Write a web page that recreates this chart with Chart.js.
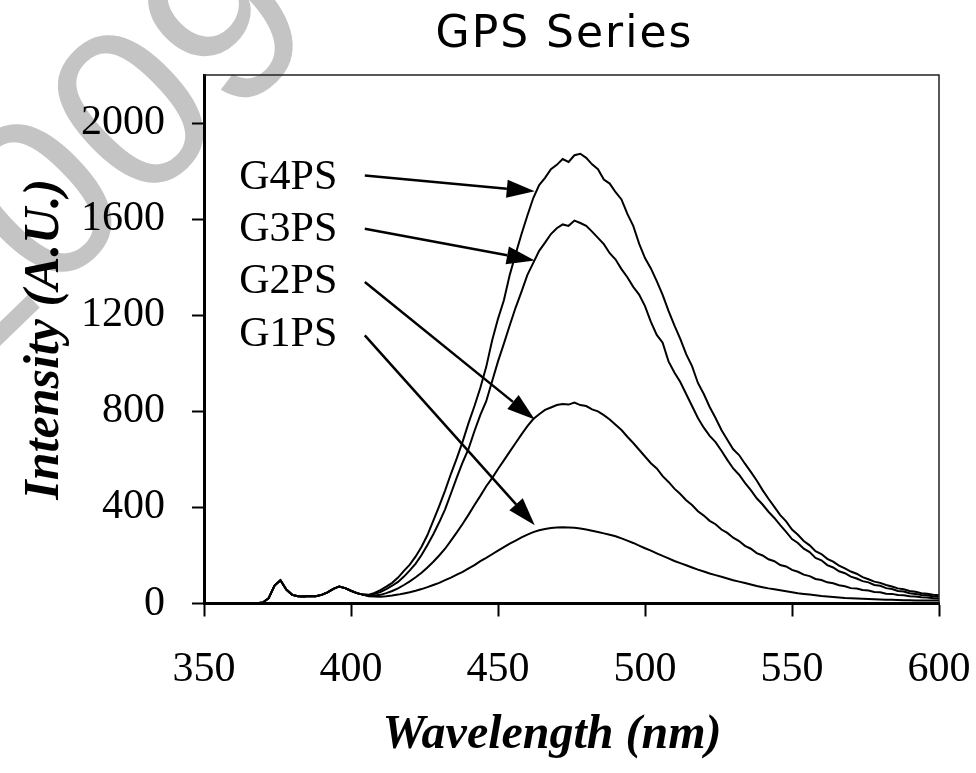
<!DOCTYPE html>
<html>
<head>
<meta charset="utf-8">
<script src="https://cdn.jsdelivr.net/npm/chart.js@4.4.0/dist/chart.umd.min.js"></script>
<style>
  html, body { margin: 0; padding: 0; background: #fff; }
</style>
</head>
<body>
<canvas id="chart" width="976" height="773"></canvas>
<script>
// Wavelength grid (nm)
const wavelengths = [
  366,368,370,372,374,376,378,380,382,384,386,388,390,392,394,396,398,400,402,404,
  406,408,410,412,414,416,418,420,422,424,426,428,430,432,434,436,438,440,442,444,
  446,448,450,452,454,456,458,460,462,464,466,468,470,472,474,476,478,480,482,484,
  486,488,490,492,494,496,498,500,502,504,506,508,510,512,514,516,518,520,522,524,
  526,528,530,532,534,536,538,540,542,544,546,548,550,552,554,556,558,560,562,564,
  566,568,570,572,574,576,578,580,582,584,586,588,590,592,594,596,598,600
];

const seriesNames = ['G4PS', 'G3PS', 'G2PS', 'G1PS'];

// Intensity (A.U.)
const g4ps = [
  0,1,4,22,75,97,58,36,30,29,31,30,36,46,61,71,64,53,43,37,
  36,44,56,70,86,108,136,162,196,236,285,345,405,470,540,605,675,752,822,898,
  985,1095,1185,1262,1368,1455,1538,1615,1688,1742,1772,1808,1826,1850,1838,1866,1872,1855,1828,1808,
  1765,1748,1712,1682,1622,1572,1498,1438,1395,1342,1285,1218,1158,1102,1038,988,918,872,818,772,
  722,682,642,618,582,548,512,472,436,402,368,342,308,286,260,242,218,206,186,174,
  158,146,133,124,110,101,91,86,77,71,63,59,52,49,43,41,36,34
];
const g3ps = [
  0,1,4,22,75,97,58,36,30,29,31,30,36,46,61,71,64,53,43,37,
  35,40,48,60,74,90,112,138,166,202,244,288,338,392,458,525,588,645,718,785,
  842,925,1008,1082,1158,1232,1298,1368,1418,1468,1502,1538,1562,1578,1572,1594,1584,1572,1548,1522,
  1496,1458,1432,1392,1358,1318,1286,1238,1172,1118,1086,1008,962,922,872,822,772,732,698,672,
  636,598,562,536,502,472,438,412,382,356,326,298,268,252,228,214,190,180,160,150,
  134,126,112,104,93,88,77,74,64,60,52,50,43,40,35,34,29,28
];
const g2ps = [
  0,1,4,22,75,97,58,36,30,29,31,30,36,46,61,71,64,53,43,37,
  32,33,36,43,52,63,77,92,109,128,150,174,200,228,262,296,332,370,410,448,
  488,522,560,596,632,668,704,738,768,788,806,816,826,830,828,836,826,822,808,800,
  784,766,744,722,694,668,640,612,584,562,530,506,478,456,430,410,384,366,344,330,
  308,294,274,260,240,228,210,200,184,176,160,154,140,132,120,114,102,98,88,84,
  76,72,64,62,56,54,48,47,41,40,35,34,30,29,26,25,22,21
];
const g1ps = [
  0,1,4,22,75,97,58,36,30,29,31,30,36,46,61,71,64,53,43,37,
  30,29,28,30,33,37,42,47,53,60,68,77,86,97,108,120,132,146,160,176,
  190,205,220,235,249,262,275,287,297,305,310,314,316,317,316,315,312,308,303,298,
  292,286,280,271,262,252,241,230,220,209,198,188,177,168,159,150,141,133,125,118,
  111,104,97,91,85,79,73,68,63,59,55,51,47,43,40,37,34,31,29,27,
  25,23,22,21,20,19,18,17,16,16,15,14,14,13,13,12,12,12
];
const seriesValues = [g4ps, g3ps, g2ps, g1ps];

// Axis ticks
const xTicks = [350, 400, 450, 500, 550, 600];
const yTicks = [0, 400, 800, 1200, 1600, 2000];

// Arrow notes, in data units
const noteLabelX = 362;
const noteLabelY = [1773, 1553, 1337, 1116];
const arrowFromX = 404.7;
const arrowFromY = [1782, 1560, 1338, 1116];
const arrowToX = 462.5;
const arrowToY = [1716, 1428, 766, 326];

const serif = '"Liberation Serif", "Times New Roman", serif';

// white background + grey watermark behind everything
const backdrop = {
  id: 'backdrop',
  beforeDraw(chart) {
    const c = chart.ctx;
    c.save();
    c.fillStyle = '#fff';
    c.fillRect(0, 0, chart.width, chart.height);
    c.translate(96, 165);
    c.rotate(-44 * Math.PI / 180);
    c.font = '230px "Liberation Sans", Arial, sans-serif';
    c.fillStyle = '#c4c4c4';
    c.textAlign = 'center';
    c.textBaseline = 'middle';
    c.fillText('2009', 0, 0);
    c.restore();
  }
};

// thin top/right frame, arrows with labels, titles
const notes = {
  id: 'notes',
  afterDatasetsDraw(chart) {
    const c = chart.ctx;
    const { left, right, top, bottom } = chart.chartArea;
    const xs = chart.scales.x, ys = chart.scales.y;

    c.save();
    c.strokeStyle = '#222';
    c.lineWidth = 1.5;
    c.beginPath();
    c.moveTo(left, top);
    c.lineTo(right, top);
    c.lineTo(right, bottom);
    c.stroke();

    c.fillStyle = '#000';
    c.strokeStyle = '#000';
    c.font = '42px ' + serif;
    c.textAlign = 'left';
    c.textBaseline = 'middle';
    seriesNames.forEach((name, i) => {
      c.fillText(name, xs.getPixelForValue(noteLabelX), ys.getPixelForValue(noteLabelY[i]));

      const x0 = xs.getPixelForValue(arrowFromX), y0 = ys.getPixelForValue(arrowFromY[i]);
      const x1 = xs.getPixelForValue(arrowToX), y1 = ys.getPixelForValue(arrowToY[i]);
      const ang = Math.atan2(y1 - y0, x1 - x0);
      const headLen = 28, headHalf = 9;
      const bx = x1 - headLen * Math.cos(ang), by = y1 - headLen * Math.sin(ang);
      c.lineWidth = 2.5;
      c.beginPath();
      c.moveTo(x0, y0);
      c.lineTo(bx, by);
      c.stroke();
      c.beginPath();
      c.moveTo(x1, y1);
      c.lineTo(bx + headHalf * Math.sin(ang), by - headHalf * Math.cos(ang));
      c.lineTo(bx - headHalf * Math.sin(ang), by + headHalf * Math.cos(ang));
      c.closePath();
      c.fill();
    });

    // x axis title sits a little left of the plot centre in the original
    c.font = 'italic bold 48px ' + serif;
    c.textAlign = 'center';
    c.textBaseline = 'middle';
    c.fillText('Wavelength (nm)', 552, 736);

    c.font = '44px "DejaVu Sans", sans-serif';
    c.letterSpacing = '2px';
    c.textBaseline = 'alphabetic';
    c.fillText('GPS Series', (left + right) / 2 - 7, 47);
    c.restore();
  }
};

const ctx = document.getElementById('chart').getContext('2d');
new Chart(ctx, {
  type: 'line',
  data: {
    datasets: seriesNames.map((name, i) => ({
      label: name,
      data: wavelengths.map((w, j) => ({ x: w, y: seriesValues[i][j] })),
      borderColor: '#000',
      borderWidth: 2,
      pointRadius: 0,
      fill: false,
      tension: 0
    }))
  },
  options: {
    responsive: false,
    animation: false,
    devicePixelRatio: 1,
    layout: { padding: { top: 75, right: 37, bottom: 0, left: 0 } },
    plugins: { legend: { display: false }, tooltip: { enabled: false }, title: { display: false } },
    scales: {
      x: {
        type: 'linear',
        min: 350,
        max: 600,
        afterBuildTicks: s => { s.ticks = xTicks.map(v => ({ value: v })); },
        afterFit: s => { s.height = 169.5; s.paddingLeft = 0; s.paddingRight = 0; },
        ticks: { color: '#000', font: { family: serif, size: 42 }, padding: 28, maxRotation: 0, autoSkip: false, callback: v => String(v) },
        grid: { drawOnChartArea: false, drawTicks: true, tickLength: 13, tickWidth: 2, tickColor: '#000' },
        border: { display: true, color: '#000', width: 3 },
        title: { display: false }
      },
      y: {
        min: 0,
        max: 2200,
        afterBuildTicks: s => { s.ticks = yTicks.map(v => ({ value: v })); },
        afterFit: s => { s.width = 204; s.paddingTop = 0; s.paddingBottom = 0; },
        ticks: { color: '#000', font: { family: serif, size: 42 }, padding: 27, callback: v => String(v) },
        grid: { drawOnChartArea: false, drawTicks: true, tickLength: 12, tickWidth: 2, tickColor: '#000' },
        border: { display: true, color: '#000', width: 3 },
        title: {
          display: true,
          text: 'Intensity (A.U.)',
          color: '#000',
          font: { family: serif, size: 50, weight: 'bold', style: 'italic', lineHeight: 1.2 },
          padding: { top: 15, bottom: 0 }
        }
      }
    }
  },
  plugins: [backdrop, notes]
});
</script>
</body>
</html>
